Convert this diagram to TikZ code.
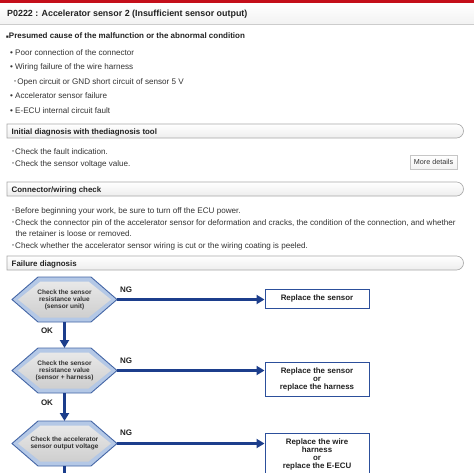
\documentclass[tikz,border=0pt]{standalone}
\usepackage{fontspec}
\setmainfont{Liberation Sans}
\newfontfamily\cjk{Noto Sans CJK JP}
\usetikzlibrary{arrows.meta}
\definecolor{txt}{HTML}{333333}
\definecolor{dark}{HTML}{222222}
\definecolor{redbar}{HTML}{C40E1A}
\definecolor{hexedge}{HTML}{4466A6}
\definecolor{hexfill}{HTML}{B4C8E6}
\definecolor{arrowblue}{HTML}{1C3E8C}
\definecolor{boxblue}{HTML}{2C4F9B}
\definecolor{barline}{HTML}{A8A8A8}
\newcommand{\hdot}{{\cjk ･}}
\newcommand{\hexnode}[4]{%
\begin{scope}[shift={(#2,#3)}]
\filldraw[draw=hexedge, fill=hexfill, line width=0.9pt] (-52.5,0) -- (-26.5,-22.5) -- (26.5,-22.5) -- (52.5,0) -- (26.5,22.5) -- (-26.5,22.5) -- cycle;
\shade[top color=gray!18, middle color=white, bottom color=gray!38] (-46.5,0) -- (-24,-18) -- (24,-18) -- (46.5,0) -- (24,18) -- (-24,18) -- cycle;
\node[hextext] (#1) at (0,0) {#4};
\coordinate (#1e) at (52.5,0);
\coordinate (#1s) at (0,22.5);
\coordinate (#1n) at (0,-22.5);
\end{scope}}
\newcommand{\secbar}[3]{%
\shade[draw=barline, line width=0.6pt, top color=white, bottom color=gray!14] (7,#2) -- (456.5,#2) arc[start angle=-90, end angle=90, radius=7] -- (7,#2+14) -- cycle;
\node[sectitle] (#1) at (11.5,#2+10) {#3};}
\begin{document}
\begin{tikzpicture}[x=1pt,y=-1pt,
  body/.style={anchor=base west, inner sep=0, font=\fontsize{8.1}{9}\selectfont, text=txt},
  sectitle/.style={anchor=base west, inner sep=0, font=\bfseries\fontsize{7.9}{9}\selectfont, text=dark},
  flow/.style={draw=arrowblue, line width=2.6pt, -{Triangle[length=8pt,width=9pt]}},
  flowline/.style={draw=arrowblue, line width=2.6pt},
  resbox/.style={draw=boxblue, line width=1pt, fill=white, minimum width=104pt, align=center, inner sep=1pt, font=\bfseries\fontsize{7.9}{8}\selectfont, text=dark},
  hextext/.style={align=center, inner sep=0, font=\bfseries\fontsize{6.5}{7}\selectfont, text=txt},
  lbl/.style={inner sep=0, font=\bfseries\fontsize{8}{9}\selectfont, text=dark}]
\useasboundingbox (0,0) rectangle (474,472);
\clip (0,0) rectangle (474,472);
\fill[white] (0,0) rectangle (474,472);
% header
\shade[top color=white, bottom color=gray!10] (0,3) rectangle (474,24);
\draw[gray!40, line width=0.6pt] (0,24) -- (474,24);
\fill[redbar] (0,0) rectangle (474,3);
\node[anchor=base west, inner sep=0, font=\bfseries\fontsize{8.9}{10}\selectfont, text=dark] (title) at (7,16.5) {P0222 : Accelerator sensor 2 (Insufficient sensor output)};
% presumed cause
\node[anchor=base west, inner sep=0, font=\bfseries\fontsize{8}{9}\selectfont, text=dark] (cause) at (6,38.8) {{\fontsize{4.5}{5}\selectfont ■}Presumed cause of the malfunction or the abnormal condition};
\node[body] (c1) at (10,55) {•\hspace{2.2pt}Poor connection of the connector};
\node[body] (c2) at (10,69.7) {•\hspace{2.2pt}Wiring failure of the wire harness};
\node[body] (c3) at (13,84) {\hdot Open circuit or GND short circuit of sensor 5 V};
\node[body] (c4) at (10,98.7) {•\hspace{2.2pt}Accelerator sensor failure};
\node[body] (c5) at (10,113) {•\hspace{2.2pt}E-ECU internal circuit fault};
% initial diagnosis
\secbar{s1}{124}{Initial diagnosis with thediagnosis tool}
\node[body] (i1) at (11,154) {\hdot Check the fault indication.};
\node[body] (i2) at (11,166) {\hdot Check the sensor voltage value.};
\node[draw=gray!45, line width=0.5pt, top color=white, bottom color=gray!10, minimum width=47pt, minimum height=14pt, inner sep=0, font=\fontsize{7.2}{8}\selectfont, text=txt] (more) at (433.5,162) {More details};
% connector / wiring
\secbar{s2}{182}{Connector/wiring check}
\node[body] (w1) at (11,213) {\hdot Before beginning your work, be sure to turn off the ECU power.};
\node[body] (w2) at (11,225) {\hdot Check the connector pin of the accelerator sensor for deformation and cracks, the condition of the connection, and whether};
\node[body] (w3) at (15.5,236) {the retainer is loose or removed.};
\node[body] (w4) at (11,248) {\hdot Check whether the accelerator sensor wiring is cut or the wiring coating is peeled.};
% failure diagnosis
\secbar{s3}{256}{Failure diagnosis}
\hexnode{h1}{64.5}{299.5}{Check the sensor\\resistance value\\(sensor unit)}
\hexnode{h2}{64.5}{370.5}{Check the sensor\\resistance value\\(sensor + harness)}
\hexnode{h3}{64.5}{443.5}{Check the accelerator\\sensor output voltage}
\node[resbox, minimum height=19pt] (b1) at (317,298.5) {Replace the sensor};
\node[resbox, minimum height=34pt] (b2) at (317,379) {Replace the sensor\\or\\replace the harness};
\node[resbox, minimum height=43pt] (b3) at (317,454.5) {Replace the wire\\harness\\or\\replace the E-ECU};
\coordinate (h3end) at (64.5,480);
\draw[flow] (h1e) -- (h1e -| b1.west);
\draw[flow] (h1s) -- (h2n);
\draw[flow] (h2e) -- (h2e -| b2.west);
\draw[flow] (h2s) -- (h3n);
\draw[flow] (h3e) -- (h3e -| b3.west);
\draw[flowline] (h3s) -- (h3end);
\node[lbl] (ng1) at (126,289.5) {NG};
\node[lbl] (ng2) at (126,361) {NG};
\node[lbl] (ng3) at (126,433) {NG};
\node[lbl] (ok1) at (47,331) {OK};
\node[lbl] (ok2) at (47,403) {OK};
\end{tikzpicture}
\end{document}
